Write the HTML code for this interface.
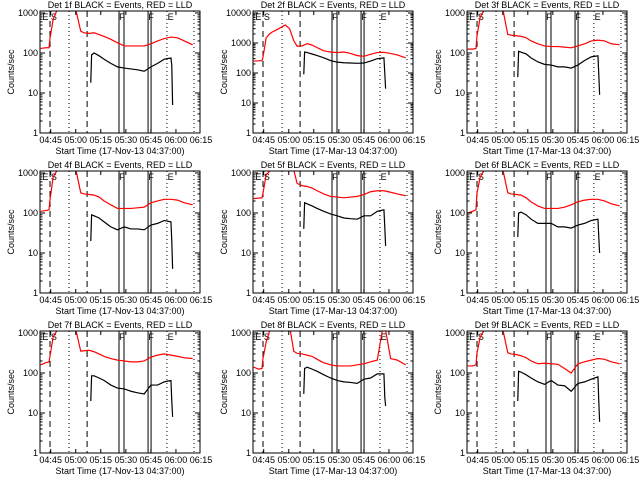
<!DOCTYPE html>
<html><head><meta charset="utf-8"><style>
body{margin:0;background:#fff}
svg{display:block;font-family:"Liberation Sans",sans-serif}
text{font-size:9px;fill:#000}
</style></head><body>
<svg id="chart" width="640" height="480" viewBox="0 0 640 480" xmlns="http://www.w3.org/2000/svg"></svg>
<script>
// minutes after 04:37:00
const redTimes=[2,5,7,7.5,9.5,11.5,13,17,21,23.5,26,28,31,34,37,40,44,48,52,56,60,64,68,72,76,80,84,88,93];
const blackTimes=[32,32.5,34,37,40,44,48,52,56,60,64,68,72,76,80,80.5,81];
const detNames=["1f","2f","3f","4f","5f","6f","7f","8f","9f"];
const dateLabels=["17-Nov-13","17-Mar-13","17-Mar-13","17-Nov-13","17-Mar-13","17-Mar-13","17-Nov-13","17-Mar-13","17-Mar-13"];
const yMaxDecade=[3,4,3,3,3,3,3,3,3];
const red1=[130,135,135,220,700,1100,2000,3000,2000,1000,350,320,310,320,290,260,220,180,150,150,150,150,170,200,230,250,240,200,160];
const red2=[250,255,260,320,1500,2000,2300,3000,4000,3000,1200,780,800,950,850,700,550,500,480,500,450,380,360,420,480,490,450,400,320];
const red3=[125,125,130,250,800,1100,2000,3000,2000,1000,290,280,270,260,240,200,170,150,145,145,140,135,150,170,200,210,200,170,160];
const red4=[110,115,120,200,800,1100,2000,3000,2000,1000,320,300,290,280,250,200,160,130,130,130,135,140,180,200,220,220,210,180,160];
const red5=[230,235,240,300,900,1100,2000,3000,3000,2500,1200,550,480,460,420,360,300,260,250,240,250,260,290,340,360,360,330,300,270];
const red6=[100,110,120,300,800,1100,2000,3000,2000,1000,320,300,290,280,240,190,150,130,130,130,140,160,190,210,220,220,200,170,150];
const red7=[160,180,190,250,800,1100,2000,3000,2000,1000,350,360,370,340,300,260,230,210,200,190,190,200,250,280,300,280,260,240,230];
const red8=[140,125,130,220,600,1100,2000,3000,2500,1500,350,310,300,280,260,220,180,160,150,150,150,160,170,190,210,2000,230,210,160];
const red9=[150,150,160,300,800,1100,2000,3000,2000,1000,320,300,290,270,240,200,170,175,170,165,130,100,170,190,210,230,220,190,170];
const black1=[18,90,100,85,70,55,45,42,40,38,35,45,55,70,75,50,5];
const black2=[90,500,480,430,380,320,260,230,220,215,210,215,250,300,320,100,30];
const black3=[25,110,105,95,75,60,52,50,45,45,42,50,65,80,85,30,9];
const black4=[20,90,85,75,60,45,38,45,40,40,38,50,55,65,60,20,4];
const black5=[40,180,170,150,130,110,95,85,75,72,70,85,85,110,120,45,15];
const black6=[25,100,105,90,70,55,55,55,45,45,42,50,55,65,70,25,10];
const black7=[20,85,85,75,65,50,42,40,35,32,30,50,50,60,65,20,8];
const black8=[30,130,140,125,110,90,75,65,60,58,55,70,75,95,95,25,15];
const black9=[20,110,105,90,75,60,52,65,50,48,35,55,60,70,80,20,6];
const reds=[red1,red2,red3,red4,red5,red6,red7,red8,red9];
const blacks=[black1,black2,black3,black4,black5,black6,black7,black8,black9];
const xTickLabels=["04:45","05:00","05:15","05:30","05:45","06:00","06:15"];
const xTickTimes=[8,23,38,53,68,83,98];
const dashedTimes=[7.6,29.8];
const dottedTimes=[19,77.6,93.8];
const solidTimes=[48.9,51.9,66.3,68.1];
const flagLabels=["E S","F","F","E"];
const flagTimes=[3,49,66.5,78];

const NS="http://www.w3.org/2000/svg";
const svg=document.getElementById('chart');
function mk(tag,attrs,parent){const e=document.createElementNS(NS,tag);for(const k in attrs)e.setAttribute(k,attrs[k]);parent.appendChild(e);return e;}
const L=40,R=200,T=11,B=133;
const tMin=1.6,tMax=97.4;
function xs(t){return L+(t-tMin)/(tMax-tMin)*(R-L);}
for(let p=0;p<9;p++){
  const col=p%3,row=Math.floor(p/3);
  const g=mk('g',{transform:`translate(${Math.round(col*213.33)},${row*160})`},svg);
  
  
  const dmax=yMaxDecade[p];
  const dec=(B-T-2)/dmax;
  const ys=v=>B-Math.log10(Math.max(v,0.5))*dec;
  const clipId='clip'+p;
  const cp=mk('clipPath',{id:clipId},g);mk('rect',{x:L,y:T,width:R-L,height:B-T},cp);
  // vertical markers
  dashedTimes.forEach(t=>{const l=mk('line',{x1:xs(t),x2:xs(t),y1:T,y2:B,stroke:'#000','stroke-dasharray':'6,4'},g);
    
    });
  dottedTimes.forEach(t=>{const l=mk('line',{x1:xs(t),x2:xs(t),y1:T,y2:B,stroke:'#000','stroke-dasharray':'1,3'},g);
    
    });
  solidTimes.forEach(t=>{const l=mk('line',{x1:xs(t),x2:xs(t),y1:T,y2:B,stroke:'#000'},g);
    
    });
  flagLabels.forEach((s,i)=>{const tx=mk('text',{x:xs(flagTimes[i]),y:T+9,'font-size':'10'},g);tx.textContent=s;
    
    });
  // series
  const rp=mk('polyline',{points:redTimes.map((t,i)=>xs(t)+','+ys(reds[p][i])).join(' '),fill:'none',stroke:'#f00','stroke-width':1.2,'clip-path':`url(#${clipId})`},g);
  
  
  const bp=mk('polyline',{points:blackTimes.map((t,i)=>xs(t)+','+ys(blacks[p][i])).join(' '),fill:'none',stroke:'#000','stroke-width':1.2,'clip-path':`url(#${clipId})`},g);
  
  
  // frame
  const fr=mk('rect',{x:L,y:T,width:R-L,height:B-T,fill:'none',stroke:'#000'},g);
  
  
  // y ticks
  for(let d=0;d<=dmax;d++){
    const y=ys(Math.pow(10,d));
    mk('line',{x1:L,x2:L+5,y1:y,y2:y,stroke:'#000'},g);mk('line',{x1:R-5,x2:R,y1:y,y2:y,stroke:'#000'},g);
    const tx=mk('text',{x:L-2,y:y+3,'text-anchor':'end'},g);tx.textContent=String(Math.pow(10,d));
    
    
    if(d<dmax)for(let m=2;m<10;m++){const ym=ys(m*Math.pow(10,d));
      mk('line',{x1:L,x2:L+2.5,y1:ym,y2:ym,stroke:'#000'},g);mk('line',{x1:R-2.5,x2:R,y1:ym,y2:ym,stroke:'#000'},g);}
  }
  // x ticks
  xTickTimes.forEach((t,i)=>{const x=xs(t);
    if(x<=R){mk('line',{x1:x,x2:x,y1:B,y2:B-4,stroke:'#000'},g);mk('line',{x1:x,x2:x,y1:T,y2:T+4,stroke:'#000'},g);}
    const tx=mk('text',{x:x,y:B+10,'text-anchor':'middle'},g);tx.textContent=xTickLabels[i];
    
    });
  const ti=mk('text',{x:120,y:8,'text-anchor':'middle'},g);ti.textContent=`Det ${detNames[p]} BLACK = Events, RED = LLD`;
  
  
  const xt=mk('text',{x:120,y:154,'text-anchor':'middle'},g);xt.textContent=`Start Time (${dateLabels[p]} 04:37:00)`;
  
  
  const yt=mk('text',{x:0,y:0,'text-anchor':'middle',transform:`translate(14,${(T+B)/2}) rotate(-90)`,'font-size':'8'},g);yt.textContent='Counts/sec';
  
  
}
</script>
</body></html>
